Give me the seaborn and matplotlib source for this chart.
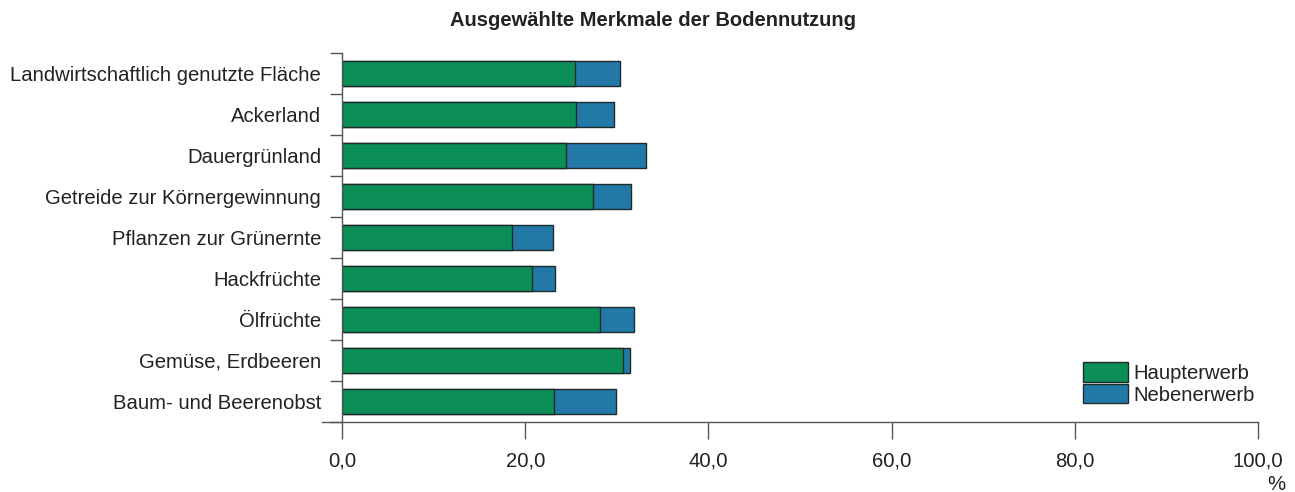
import matplotlib
matplotlib.use("Agg")
import matplotlib.pyplot as plt
import seaborn as sns
import pandas as pd
from matplotlib.patches import Patch
from matplotlib.ticker import FixedLocator, FuncFormatter

categories = [
    "Landwirtschaftlich genutzte Fläche",
    "Ackerland",
    "Dauergrünland",
    "Getreide zur Körnergewinnung",
    "Pflanzen zur Grünernte",
    "Hackfrüchte",
    "Ölfrüchte",
    "Gemüse, Erdbeeren",
    "Baum- und Beerenobst",
]
haupterwerb = [25.4, 25.6, 24.4, 27.4, 18.6, 20.7, 28.2, 30.7, 23.1]
nebenerwerb = [5.0, 4.1, 8.8, 4.2, 4.4, 2.6, 3.7, 0.7, 6.8]
series_names = ["Haupterwerb", "Nebenerwerb"]
x_ticks = [0, 20, 40, 60, 80, 100]
title = "Ausgewählte Merkmale der Bodennutzung"

df = pd.DataFrame({"Merkmal": categories, "Haupterwerb": haupterwerb, "Nebenerwerb": nebenerwerb})
df["Gesamt"] = df["Haupterwerb"] + df["Nebenerwerb"]

GREEN = "#0B8F57"
BLUE = "#2279A8"
EDGE = "#1E2A2A"
TXT = "#222222"
AXC = "#555555"
FS = 14.6

sns.set_style("white")
plt.rcParams["font.family"] = ["Liberation Sans", "DejaVu Sans"]

fig = plt.figure(figsize=(12.95, 4.92), dpi=100)
ax = fig.add_axes([342 / 1295, 1 - 422 / 492, (1258 - 342) / 1295, (422 - 53) / 492])

sns.barplot(data=df, y="Merkmal", x="Gesamt", orient="h", color=BLUE, saturation=1,
            edgecolor=EDGE, linewidth=1.0, width=0.61, ax=ax, errorbar=None)
sns.barplot(data=df, y="Merkmal", x="Haupterwerb", orient="h", color=GREEN, saturation=1,
            edgecolor=EDGE, linewidth=1.0, width=0.61, ax=ax, errorbar=None)

ax.set_xlim(0, 100)
ax.set_ylim(len(categories) - 0.5, -0.5)
ax.set_xlabel("")
ax.set_ylabel("")

for s in ["top", "right"]:
    ax.spines[s].set_visible(False)
for s in ["left", "bottom"]:
    ax.spines[s].set_color(AXC)
    ax.spines[s].set_linewidth(1.0)
ax.spines["bottom"].set_bounds(-2.2, 100)

ax.set_xticks(x_ticks)
ax.xaxis.set_major_formatter(FuncFormatter(lambda v, p: f"{v:.1f}".replace(".", ",")))
ax.tick_params(axis="x", direction="out", length=12, width=1.0, color=AXC, pad=9.5,
               labelsize=FS, labelcolor=TXT, bottom=True)

ax.yaxis.set_minor_locator(FixedLocator([i - 0.5 for i in range(len(categories) + 1)]))
ax.tick_params(axis="y", which="major", length=0, pad=15, labelsize=FS, labelcolor=TXT, left=True)
ax.tick_params(axis="y", which="minor", direction="out", length=8.6, width=1.0, color=AXC, left=True)

fig.text(653 / 1295, 1 - 21 / 492, title, ha="center", va="center",
         fontsize=14.5, fontweight="bold", color=TXT)
fig.text(1276 / 1295, 1 - 484 / 492, "%", ha="center", va="center", fontsize=FS, color=TXT)

handles = [Patch(facecolor=GREEN, edgecolor=EDGE, linewidth=1.0),
           Patch(facecolor=BLUE, edgecolor=EDGE, linewidth=1.0)]
fig.legend(handles, series_names, loc="upper left", bbox_to_anchor=(1083 / 1295, 1 - 362 / 492),
           frameon=False, fontsize=FS, handlelength=2.2, handleheight=1.12,
           handletextpad=0.3, labelspacing=0.05, borderpad=0, borderaxespad=0,
           labelcolor=TXT)

fig.savefig("out.png", dpi=100)
